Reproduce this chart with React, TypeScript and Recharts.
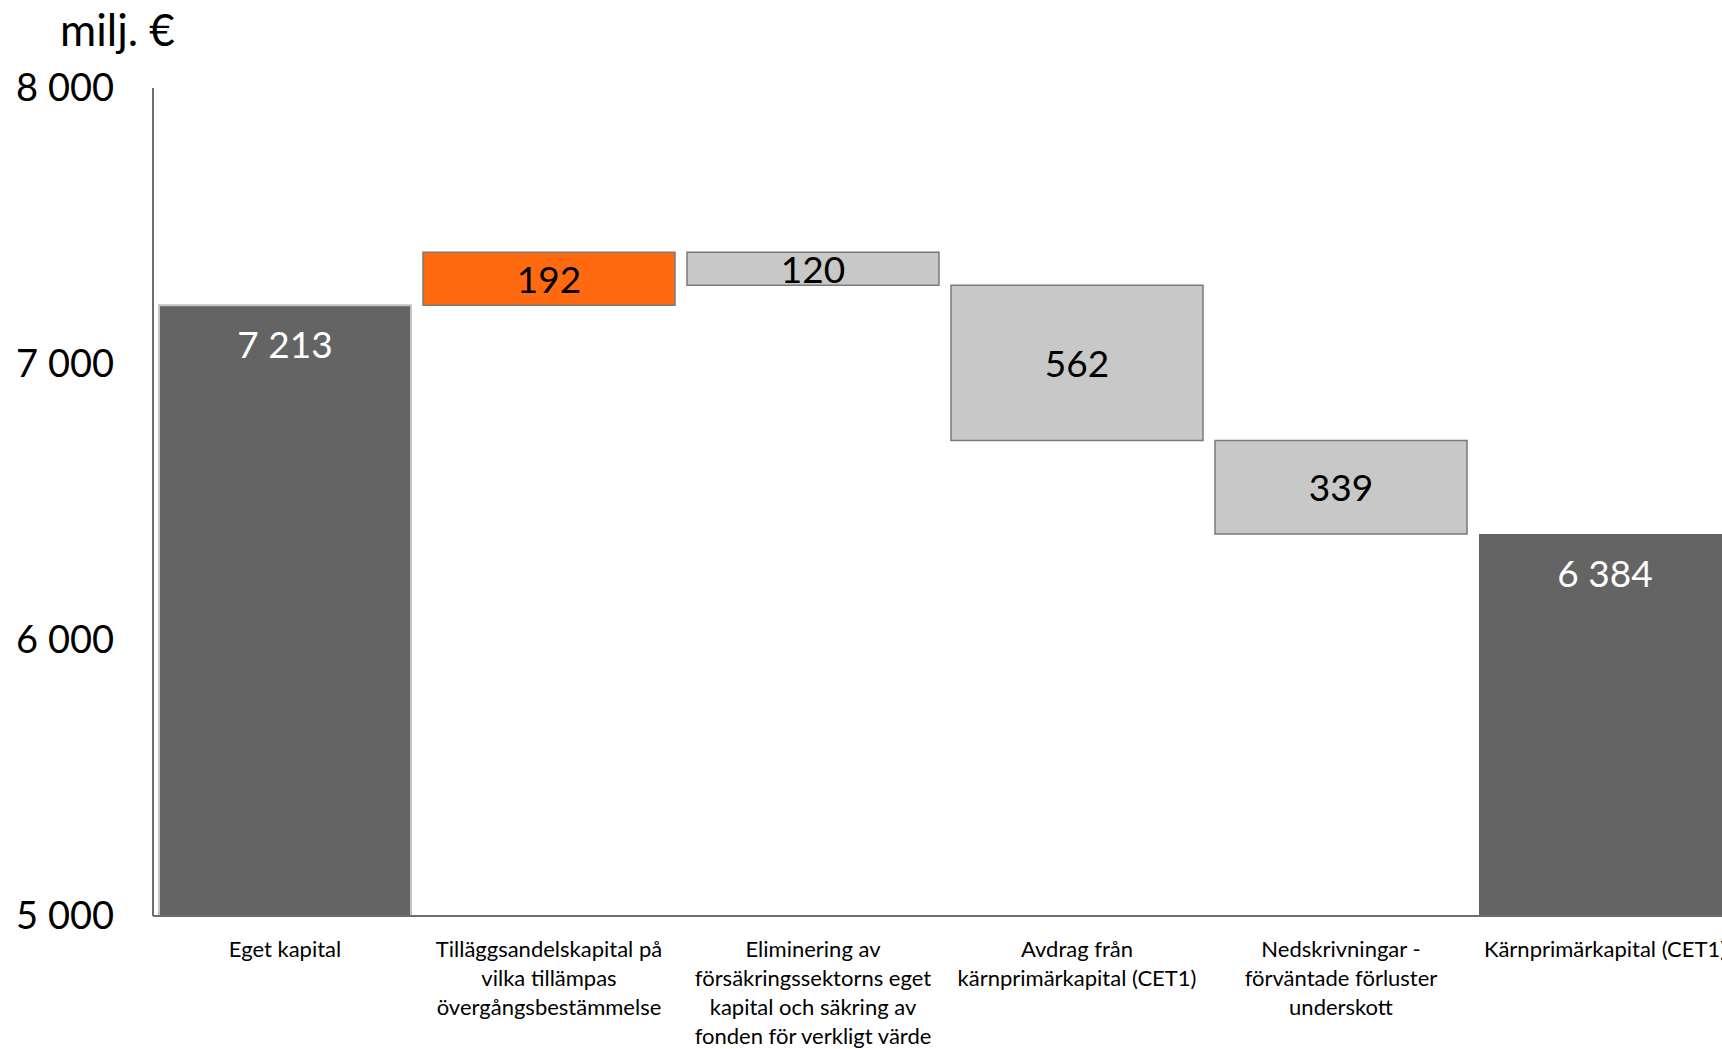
import React from 'react'
import { BarChart, Bar, XAxis, YAxis, Cell, LabelList } from 'recharts'

// Waterfall: totals and steps, milj. €
const categories = [
  'Eget kapital',
  'Tilläggsandelskapital på vilka tillämpas övergångsbestämmelse',
  'Eliminering av försäkringssektorns eget kapital och säkring av fonden för verkligt värde',
  'Avdrag från kärnprimärkapital (CET1)',
  'Nedskrivningar - förväntade förluster underskott',
  'Kärnprimärkapital (CET1)',
]

const categoryLines = [
  ['Eget kapital'],
  ['Tilläggsandelskapital på', 'vilka tillämpas', 'övergångsbestämmelse'],
  ['Eliminering av', 'försäkringssektorns eget', 'kapital och säkring av', 'fonden för verkligt värde'],
  ['Avdrag från', 'kärnprimärkapital (CET1)'],
  ['Nedskrivningar -', 'förväntade förluster', 'underskott'],
  ['Kärnprimärkapital (CET1)'],
]

const amounts = [7213, 192, -120, -562, -339, 6384]
const isTotal = [true, false, false, false, false, true]

const yTicks = [5000, 6000, 7000, 8000]
const yMin = 5000
const yMax = 8000

const FONT = 'Lato, "Open Sans", sans-serif'
const AXIS_COLOR = '#6e6e6e'

const fmt = (v: number) => String(v).replace(/\B(?=(\d{3})+(?!\d))/g, ' ')

function buildRows() {
  let running = 0
  return categories.map((name, i) => {
    if (isTotal[i]) {
      running = amounts[i]
      return { name, range: [yMin, amounts[i]], amount: amounts[i], kind: 'total' }
    }
    const start = running
    running += amounts[i]
    return {
      name,
      range: [Math.min(start, running), Math.max(start, running)],
      amount: Math.abs(amounts[i]),
      kind: amounts[i] > 0 ? 'up' : 'down',
    }
  })
}

const rows = buildRows()

const fillFor = (kind: string) =>
  kind === 'total' ? '#646464' : kind === 'up' ? '#ff6a10' : '#c8c8c8'

function CategoryTick(props: any) {
  const { x, y, payload } = props
  const lines = categoryLines[payload.index] ?? [payload.value]
  return (
    <text
      x={x}
      y={y}
      textAnchor="middle"
      fill="#000"
      fontFamily={FONT}
      fontSize={22}
    >
      {lines.map((line, i) => (
        <tspan key={i} x={x} dy={i === 0 ? 41 : 28.9}>
          {line}
        </tspan>
      ))}
    </text>
  )
}

function BarValue(props: any) {
  const vb = props.viewBox ?? props
  const x = vb.x ?? props.x
  const y = vb.y ?? props.y
  const width = vb.width ?? props.width
  const height = vb.height ?? props.height
  const row = rows[props.index]
  if (!row) return null
  const top = height < 0 ? y + height : y
  const h = Math.abs(height)
  const cx = x + width / 2
  const isSum = row.kind === 'total'
  return (
    <text
      x={cx}
      y={isSum ? top + 53 : top + h / 2 + 14}
      textAnchor="middle"
      fill={isSum ? '#ffffff' : '#000000'}
      fontFamily={FONT}
      fontSize={37}
    >
      {fmt(row.amount)}
    </text>
  )
}

export default function App() {
  return (
    <div
      style={{
        position: 'relative',
        width: 1722,
        height: 1049,
        overflow: 'hidden',
        background: '#fff',
        fontFamily: FONT,
      }}
    >
      <style>{'html, body { margin: 0; padding: 0; overflow: hidden; }'}</style>
      <div
        style={{
          position: 'absolute',
          left: 60,
          top: 7,
          fontSize: 44,
          lineHeight: '44px',
          color: '#000',
          whiteSpace: 'nowrap',
        }}
      >
        milj. €
      </div>
      <BarChart
        width={1750}
        height={1049}
        data={rows}
        margin={{ top: 88, right: 13, left: 0, bottom: 0 }}
        barCategoryGap={6}
      >
        <XAxis
          dataKey="name"
          interval={0}
          height={133}
          tickLine={false}
          tickSize={0}
          tickMargin={0}
          axisLine={{ stroke: AXIS_COLOR, strokeWidth: 2 }}
          tick={<CategoryTick />}
        />
        <YAxis
          domain={[yMin, yMax]}
          ticks={yTicks}
          width={153}
          tickLine={false}
          tickSize={0}
          tickMargin={39}
          axisLine={{ stroke: AXIS_COLOR, strokeWidth: 2 }}
          tickFormatter={fmt}
          tick={{ fill: '#000', fontSize: 38, fontFamily: FONT }}
        />
        <Bar dataKey="range" isAnimationActive={false}>
          {rows.map((r, i) => (
            <Cell
              key={i}
              fill={fillFor(r.kind)}
              stroke={r.kind === 'total' ? (i === 0 ? '#c4c4c4' : 'none') : '#7a7a7a'}
              strokeWidth={r.kind === 'total' ? 2 : 1.5}
            />
          ))}
          <LabelList dataKey="amount" content={<BarValue />} />
        </Bar>
      </BarChart>
    </div>
  )
}
